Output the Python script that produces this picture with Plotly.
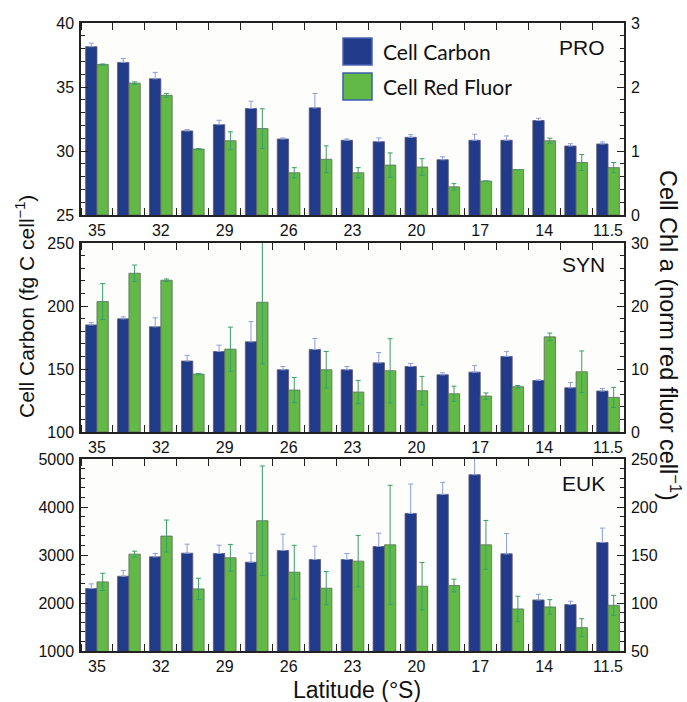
import plotly.graph_objects as go

W, H = 687, 702

tick_labels = ["35", "32", "29", "26", "23", "20", "17", "14", "11.5"]

# PRO
pro_carbon = [38.15, 36.92, 35.64, 31.57, 32.06, 33.32, 30.94, 33.37, 30.84, 30.73, 31.07, 29.32, 30.84, 30.84, 32.38, 30.39, 30.55]
pro_carbon_err = [0.28, 0.31, 0.50, 0.10, 0.34, 0.57, 0.08, 1.12, 0.10, 0.29, 0.21, 0.23, 0.47, 0.34, 0.18, 0.18, 0.16]
pro_fluor = [2.35, 2.06, 1.87, 1.03, 1.16, 1.35, 0.66, 0.87, 0.66, 0.78, 0.75, 0.44, 0.53, 0.71, 1.16, 0.82, 0.74]
pro_fluor_err = [0.01, 0.02, 0.03, 0.01, 0.14, 0.31, 0.08, 0.21, 0.08, 0.19, 0.13, 0.05, 0.0, 0.0, 0.04, 0.125, 0.08]

# SYN
syn_carbon = [185.0, 189.8, 183.5, 156.3, 163.9, 171.6, 149.4, 165.5, 149.4, 154.9, 152.0, 145.4, 147.5, 160.0, 140.9, 135.1, 132.5]
syn_carbon_err = [1.8, 1.6, 7.1, 4.5, 5.0, 16.0, 2.6, 8.7, 2.6, 8.2, 2.4, 1.6, 5.3, 4.0, 0.5, 4.2, 2.1]
syn_fluor = [20.7, 25.2, 24.09, 9.19, 13.15, 20.6, 6.66, 9.88, 6.34, 9.72, 6.55, 6.07, 5.7, 7.18, 15.1, 9.56, 5.49]
syn_fluor_err = [2.85, 1.3, 0.2, 0.1, 3.5, 9.8, 2.0, 2.9, 1.85, 5.1, 2.27, 1.2, 0.5, 0.2, 0.6, 3.3, 1.6]

# EUK
euk_carbon = [2301, 2558, 2962, 3038, 3031, 2850, 3094, 2906, 2906, 3177, 3866, 4263, 4673, 3024, 2064, 1967, 3261]
euk_carbon_err = [97, 118, 70, 188, 174, 188, 341, 278, 125, 278, 612, 250, 350, 424, 118, 70, 299]
euk_fluor = [122.0, 150.9, 169.7, 114.7, 147.1, 185.7, 132.1, 115.4, 143.6, 160.6, 117.5, 118.2, 160.6, 93.8, 95.9, 74.3, 97.6]
euk_fluor_err = [9.0, 3.1, 16.7, 11.1, 13.9, 57.0, 28.0, 17.4, 26.8, 62.0, 24.7, 6.6, 25.4, 13.2, 7.6, 9.4, 10.4]

panel_names = ["PRO", "SYN", "EUK"]
left_ranges = [[25, 40], [100, 250], [1000, 5000]]
left_dticks = [5, 50, 1000]
left_minor = [1, 10, 200]
right_ranges = [[0, 3], [0, 30], [50, 250]]
right_dticks = [1, 10, 50]
right_minor = [0.2, 2, 10]

BLUE = "#223a8a"
GREEN = "#63b946"
BLUE_ERR = "#8c9fe0"
GREEN_ERR = "#3a9f66"
FONT = "Liberation Sans, Arial, sans-serif"

n = len(pro_carbon)
xi = list(range(n))
label_pos = list(range(0, n, 2))

x0p, x1p = 81 / W, 624 / W
ydoms = [(23, 215), (243, 432), (459, 651)]

fig = go.Figure()
data = [
    (pro_carbon, pro_carbon_err, pro_fluor, pro_fluor_err),
    (syn_carbon, syn_carbon_err, syn_fluor, syn_fluor_err),
    (euk_carbon, euk_carbon_err, euk_fluor, euk_fluor_err),
]
bw = 0.355
layout = {}
for k, (c, ce, f, fe) in enumerate(data):
    xa = "x" if k == 0 else f"x{k+1}"
    yl = "y" if k == 0 else f"y{2*k+1}"
    yr = f"y{2*k+2}"
    fig.add_trace(go.Bar(
        x=xi, y=c, xaxis=xa, yaxis=yl, width=bw, offset=-bw,
        marker=dict(color=BLUE, line=dict(color="#5a5a6a", width=0.8)),
        error_y=dict(type="data", array=ce, arrayminus=[0] * n, symmetric=False,
                     color=BLUE_ERR, thickness=1, width=2.5),
        showlegend=False,
    ))
    fig.add_trace(go.Bar(
        x=xi, y=f, xaxis=xa, yaxis=yr, width=bw, offset=0,
        marker=dict(color=GREEN, line=dict(color="#5a6a5a", width=0.8)),
        error_y=dict(type="data", array=fe, color=GREEN_ERR, thickness=1, width=2.5),
        showlegend=False,
    ))
    top, bot = ydoms[k]
    dom = [1 - bot / H, 1 - top / H]
    xkey = "xaxis" if k == 0 else f"xaxis{k+1}"
    ylkey = "yaxis" if k == 0 else f"yaxis{2*k+1}"
    yrkey = f"yaxis{2*k+2}"
    layout[xkey] = dict(
        domain=[x0p, x1p], anchor=yl, range=[-0.5, n - 0.5],
        tickmode="array", tickvals=label_pos, ticktext=tick_labels,
        ticks="", showline=True, linecolor="#222", linewidth=1.5, mirror="allticks",
        minor=dict(tickmode="linear", tick0=0.5, dtick=1, ticks="inside", ticklen=7,
                   tickcolor="#222", tickwidth=1.2),
        showgrid=False, zeroline=False, automargin=False,
        tickfont=dict(family=FONT, size=16, color="#111"),
    )
    layout[ylkey] = dict(
        domain=dom, anchor=xa, range=left_ranges[k], dtick=left_dticks[k], tick0=0,
        ticks="inside", ticklen=7, tickcolor="#222", tickwidth=1.2,
        minor=dict(dtick=left_minor[k], ticks="inside", ticklen=4, tickcolor="#222", tickwidth=1),
        showline=True, linecolor="#222", linewidth=1.5,
        showgrid=False, zeroline=False, automargin=False, ticklabelstandoff=2,
        tickfont=dict(family=FONT, size=16, color="#111"),
    )
    layout[yrkey] = dict(
        domain=dom, anchor=xa, overlaying=yl, side="right",
        range=right_ranges[k], dtick=right_dticks[k], tick0=0,
        ticks="inside", ticklen=7, tickcolor="#222", tickwidth=1.2,
        minor=dict(dtick=right_minor[k], ticks="inside", ticklen=4, tickcolor="#222", tickwidth=1),
        showline=True, linecolor="#222", linewidth=1.5,
        showgrid=False, zeroline=False, automargin=False, ticklabelstandoff=2,
        tickfont=dict(family=FONT, size=16, color="#111"),
    )

fig.update_layout(**layout)

ann = []
shapes = []
label_y = [47, 265, 483]
for k, name in enumerate(panel_names):
    ann.append(dict(text=name, x=607 / W, y=1 - label_y[k] / H, xref="paper", yref="paper",
                    xanchor="right", yanchor="middle", showarrow=False,
                    font=dict(family=FONT, size=21, color="#111")))

# legend
leg = [("Cell Carbon", BLUE, "#4b63b3", 38, 65), ("Cell Red Fluor", GREEN, "#3d5fae", 73, 100)]
for text, fill, border, t, b in leg:
    shapes.append(dict(type="rect", xref="paper", yref="paper",
                       x0=343 / W, x1=372 / W, y0=1 - b / H, y1=1 - t / H,
                       fillcolor=fill, line=dict(color=border, width=1.5)))
    ann.append(dict(text=text, x=381 / W, y=1 - ((t + b) / 2) / H, xref="paper", yref="paper",
                    xanchor="left", yanchor="middle", showarrow=False,
                    font=dict(family="Lato, Open Sans, sans-serif", size=21, color="#111")))

ann.append(dict(text="Cell Carbon (fg C cell<sup>−1</sup>)", x=25 / W, y=1 - 307 / H,
                xref="paper", yref="paper", textangle=-90, showarrow=False,
                xanchor="center", yanchor="middle",
                font=dict(family=FONT, size=21, color="#111")))
ann.append(dict(text="Cell Chl a (norm red fluor cell<sup>−1</sup>)", x=670 / W, y=1 - 335 / H,
                xref="paper", yref="paper", textangle=90, showarrow=False,
                xanchor="center", yanchor="middle",
                font=dict(family=FONT, size=23.5, color="#111")))
ann.append(dict(text="Latitude (°S)", x=357 / W, y=1 - 690 / H,
                xref="paper", yref="paper", showarrow=False,
                xanchor="center", yanchor="middle",
                font=dict(family=FONT, size=23, color="#111")))

fig.update_layout(
    width=W, height=H, margin=dict(l=0, r=0, t=0, b=0),
    paper_bgcolor="white", plot_bgcolor="#fdfdfb",
    annotations=ann, shapes=shapes, showlegend=False, barmode="overlay",
)

fig.write_html("out.html")
